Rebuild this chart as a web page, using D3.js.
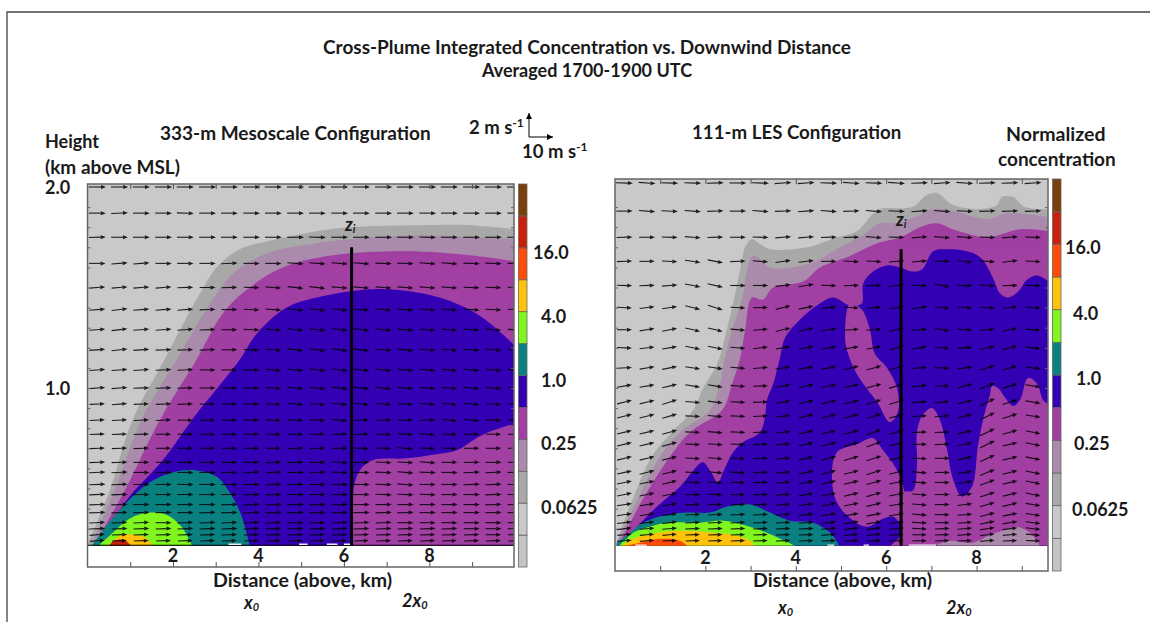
<!DOCTYPE html>
<html>
<head>
<meta charset="utf-8">
<script src="https://cdn.jsdelivr.net/npm/d3@7"></script>
<style>
  body { margin: 0; background: #fff; }
  svg { display: block; }
  text { font-family: Lato, "Open Sans", sans-serif; font-weight: 700; fill: #1a1a1a; }
</style>
</head>
<body>
<svg width="1150" height="622"></svg>
<script>
// contour tops, [km, km above MSL]
var mesoGray = [[0,.22],[.52,.49],[1.05,.84],[1.80,1.14],[2.55,1.44],[3.02,1.60],[3.56,1.69],[4.43,1.74],[5.36,1.78],[6.14,1.80],[7.78,1.81],[8.95,1.81],[10,1.79]];
var mesoLilac = [[.09,.22],[.63,.49],[1.26,.84],[2.08,1.14],[2.93,1.44],[3.40,1.57],[4.19,1.67],[5.36,1.72],[6.14,1.74],[7.78,1.76],[8.95,1.75],[10,1.74]];
var mesoPurple = [[.16,.22],[.87,.49],[1.69,.84],[2.55,1.14],[3.16,1.37],[3.79,1.50],[4.57,1.60],[5.74,1.66],[7.47,1.68],[8.95,1.66],[10,1.63]];
var mesoBlue = [[.28,.22],[.91,.44],[1.76,.64],[2.44,.84],[3.56,1.14],[3.96,1.27],[4.66,1.40],[5.36,1.45],[6.53,1.49],[7.14,1.49],[8.24,1.45],[9.18,1.36],[10,1.21]];
var mesoLowPurple = [[6.21,.22],[6.22,.49],[6.37,.59],[6.67,.64],[7.47,.65],[8.17,.67],[8.64,.69],[9.18,.76],[9.65,.80],[10,.81],[10,.22]];
var mesoTeal = [[.12,.22],[.35,.29],[.91,.43],[1.45,.53],[1.99,.58],[2.55,.59],[3.02,.56],[3.33,.48],[3.61,.36],[3.79,.22]];
var mesoLime = [[.28,.22],[.59,.28],[.98,.35],[1.45,.38],[1.85,.37],[2.20,.31],[2.44,.22]];
var mesoYellow = [[.52,.22],[.80,.27],[1.05,.27],[1.33,.26],[1.52,.22]];
var mesoRed = [[.52,.22],[.62,.24],[.85,.245],[1.0,.22]];

var lesGray = [[0,.21],[.11,.28],[.38,.44],[.82,.66],[1.26,.78],[1.73,.89],[1.95,1.00],[2.26,1.12],[2.43,1.25],[2.61,1.42],[2.77,1.59],[2.88,1.70],[3.03,1.74],[3.25,1.71],[3.43,1.69],[4.25,1.70],[4.91,1.75],[5.35,1.78],[5.64,1.85],[5.86,1.89],[6.57,1.90],[6.90,1.96],[7.12,1.97],[7.48,1.91],[8.08,1.89],[8.45,1.91],[8.56,1.95],[8.81,1.95],[9.07,1.90],[9.6,1.89]];
var lesLilac = [[.02,.21],[.15,.28],[.49,.44],[1.0,.66],[1.44,.78],[2.10,.89],[2.32,1.02],[2.43,1.15],[2.59,1.29],[2.81,1.44],[2.92,1.59],[3.05,1.66],[3.16,1.65],[3.43,1.60],[4.31,1.62],[4.98,1.70],[5.42,1.75],[5.86,1.82],[6.19,1.82],[6.75,1.86],[7.04,1.89],[7.48,1.88],[8.23,1.84],[8.67,1.87],[9.6,1.85]];
var lesPurple = [[.04,.21],[.22,.28],[.60,.44],[1.22,.66],[1.66,.78],[2.37,.89],[2.59,1.02],[2.77,1.15],[2.88,1.29],[3.03,1.45],[3.27,1.44],[3.50,1.50],[4.16,1.53],[4.54,1.60],[5.13,1.65],[5.80,1.72],[6.31,1.75],[6.75,1.80],[7.12,1.82],[7.48,1.79],[8.23,1.75],[8.96,1.79],[9.6,1.78]];
var lesBlue = [[.07,.21],[.49,.31],[.93,.41],[1.44,.51],[1.81,.61],[1.95,.63],[2.10,.59],[2.28,.53],[2.39,.58],[2.61,.68],[2.83,.73],[3.21,.78],[3.32,.86],[3.36,.94],[3.50,1.02],[3.65,1.15],[3.76,1.25],[4.09,1.34],[4.47,1.41],[4.82,1.45],[5.20,1.41],[5.46,1.42],[5.49,1.52],[5.71,1.58],[6.02,1.61],[6.31,1.60],[6.57,1.58],[6.79,1.59],[7.04,1.68],[7.35,1.69],[7.79,1.68],[8.08,1.65],[8.36,1.55],[8.52,1.47],[8.69,1.45],[8.92,1.48],[9.12,1.54],[9.34,1.56],[9.6,1.53]];
var lesLobe = [[5.20,1.42],[5.46,1.39],[5.64,1.29],[5.75,1.17],[6.02,1.10],[6.24,1.00],[6.26,.88],[6.08,.83],[5.80,.93],[5.35,1.07],[5.13,1.19],[5.09,1.27]];
var lesIsland = [[5.71,.75],[5.93,.69],[6.19,.61],[6.37,.52],[6.37,.32],[6.15,.36],[5.93,.35],[5.58,.31],[5.27,.34],[4.91,.43],[4.80,.56],[4.91,.68],[5.35,.72]];
var lesFoot = [[6.1,.21],[6.3,.26],[6.37,.29],[6.37,.21]];
var lesLowPurple = [[6.33,.21],[6.37,.48],[6.59,.49],[6.68,.61],[6.68,.78],[6.79,.86],[7.01,.90],[7.19,.84],[7.35,.69],[7.46,.56],[7.68,.46],[7.90,.51],[8.03,.71],[8.14,.84],[8.30,.97],[8.34,1.01],[8.47,1.00],[8.67,.94],[8.81,.91],[8.96,.94],[9.14,1.05],[9.34,1.02],[9.47,.94],[9.6,.91],[9.6,.21]];
var lesLowLilac = [[7.12,.22],[7.41,.24],[7.92,.23],[8.30,.27],[8.58,.29],[8.89,.31],[9.18,.28],[9.34,.24],[9.40,.21]];
var lesTeal = [[.04,.23],[.33,.28],[.62,.33],[1.15,.37],[1.66,.38],[2.10,.38],[2.48,.41],[2.99,.42],[3.43,.38],[3.87,.34],[4.38,.33],[4.76,.28],[4.98,.21]];
var lesLime = [[.07,.21],[.40,.28],[.62,.30],[1.15,.33],[1.88,.33],[2.39,.34],[2.83,.32],[3.36,.28],[4.03,.21]];
var lesYellow = [[.11,.21],[.40,.25],[.93,.28],[1.50,.29],[2.17,.28],[2.61,.27],[2.99,.24],[3.10,.21]];
var lesOrange = [[.15,.21],[.55,.23],[1.0,.25],[1.44,.24],[1.62,.21]];

// colour bar: edges in normalized concentration, colours bottom to top
var barEdges = [1/64,1/32,1/16,1/8,1/4,1/2,1,2,4,8,16,32,64];
var barColors = ["#c4c4c4","#c9c9c9","#a9a9a9","#ab8bab","#a23fa2","#3300b4","#0a8080","#80f51e","#ffc20a","#ff4a0a","#c8200a","#7a3f0a"];
var barTicks = [16,4,1,0.25,0.0625];
var barTickLabels = ["16.0","4.0","1.0","0.25","0.0625"];

// wind vectors
var mesoCols = [.23,.75,1.26,1.78,2.29,2.81,3.32,3.84,4.35,4.87,5.38,5.90,6.41,6.93,7.44,7.96,8.47,8.99,9.50,10.02];
var mesoRows = [2.00,1.87,1.75,1.62,1.50,1.39,1.29,1.19,1.09,1.00,.92,.84,.77,.70,.63,.58,.52,.47,.42,.38,.33,.30,.27,.24];
var mesoU = [7.2,7,7,6.8,6.6,6.6,6.6,6.6,6.6,6.6,6.4,6.4,6.4,6.4,6.6,6.8,6.8,6.8,6.8,6.8,6.6,6.6,6.4,6.2];
var mesoV = [
[0,0,0,0,0,0,0,0,0,0,0,0,0,0,0,0,0,0,0,0],
[0,.05,0,0,-.05,0,0,0,0,0,0,0,0,0,0,0,0,0,0,0],
[.05,0,0,0,0,0,0,0,0,0,-.05,0,0,0,0,-.05,0,0,0,0],
[0,.1,.1,0,0,0,.05,0,0,-.1,-.1,-.1,-.1,-.05,-.05,-.1,-.1,-.05,-.05,0],
[.1,.1,.1,.1,.05,0,.05,-.05,-.1,-.15,-.15,-.1,-.1,-.1,-.1,-.1,-.1,-.05,-.05,-.05],
[.1,.15,.1,.1,.1,.05,0,-.05,-.1,-.15,-.15,-.15,-.1,-.1,-.1,-.1,-.1,-.1,-.05,-.05],
[.1,.15,.1,.1,.1,.05,0,-.05,-.1,-.15,-.15,-.15,-.15,-.1,-.1,-.1,-.1,-.1,-.1,-.05],
[.1,.15,.1,.05,.05,.05,0,-.05,-.1,-.15,-.15,-.15,-.15,-.1,-.15,-.1,-.1,-.1,-.1,-.05],
[.1,.1,.1,.05,.05,0,0,-.05,-.1,-.1,-.15,-.15,-.15,-.1,-.1,-.1,-.1,-.1,-.1,-.05],
[.1,.1,.05,.05,.05,0,0,-.05,-.1,-.1,-.1,-.15,-.15,-.15,-.1,-.1,-.1,-.1,-.1,-.05],
[.05,.1,.05,.05,.05,0,0,0,-.05,-.1,-.1,-.1,-.1,-.1,-.1,-.1,-.1,-.1,-.05,-.05],
[.05,.05,.05,.05,0,0,0,0,-.05,-.05,-.05,-.1,.05,.05,.05,.05,-.1,-.1,-.05,-.05],
[.05,.05,.05,0,0,0,0,0,-.05,0,.05,.05,.05,0,-.1,-.1,-.05,0,0,0],
[.05,.05,.05,0,0,0,0,0,0,.05,.05,0,-.05,-.05,-.1,-.05,-.05,0,0,0],
[.05,.05,0,0,0,0,0,0,.05,.05,0,-.05,0,-.05,-.05,-.1,0,0,0,0],
[.05,.05,0,0,0,0,0,.05,.05,0,.05,-.05,0,-.05,-.1,-.05,0,.05,.05,0],
[.05,.05,0,0,0,0,0,0,.05,.05,0,0,0,-.05,-.1,0,0,.05,.05,0],
[.05,.05,0,0,0,0,0,.05,.05,0,0,0,0,-.05,-.05,-.05,0,0,.05,0],
[.05,.05,0,0,0,0,.05,.05,.05,0,0,0,0,0,0,0,0,0,.05,0],
[.05,.05,0,0,0,.05,.05,.05,.05,0,0,0,0,.05,.05,0,0,0,0,0],
[.05,.05,.05,0,.05,.05,.05,.05,.05,0,0,.05,.05,.05,0,0,0,0,0,0],
[.05,.05,.05,.05,.05,.05,.05,.05,.05,.05,.05,.05,.05,.05,.05,.05,.05,0,0,0],
[.1,.05,.05,.05,.05,.05,.05,.05,.05,.05,.05,.05,.05,.05,.05,.05,.05,.05,0,0],
[.1,.05,.05,.05,.05,.05,.05,.05,.05,.05,.05,.05,.05,.05,.05,.05,.05,.05,.05,.05]
];

var lesCols = [.21,.71,1.21,1.72,2.22,2.72,3.22,3.72,4.23,4.73,5.23,5.73,6.23,6.74,7.24,7.74,8.24,8.74,9.25];
var lesRows = [2.02,1.88,1.75,1.63,1.51,1.40,1.29,1.20,1.10,1.01,.93,.86,.78,.72,.65,.58,.53,.47,.42,.37,.33,.30,.27,.24];
var lesU = [7,6.8,6.6,6.4,6.4,6.2,6.2,6.2,6.2,6.2,6.2,6.2,6.2,6.2,6.2,6.2,6.2,6.2,6.2,6.2,6.2,6.2,6,6];
var lesV = [
[-.05,-.1,-.05,-.05,.05,0,-.05,.1,.1,-.05,-.1,-.05,-.1,.05,.1,-.1,.05,.05,.1],
[0,-.1,-.05,-.1,.05,0,-.1,.05,.1,-.1,.05,-.1,-.05,.1,-.1,-.05,.05,.05,.05],
[.05,0,-.05,-.1,.05,0,-.05,.1,.1,.05,.05,-.1,-.05,.1,-.1,-.1,-.05,.1,-.05],
[.05,0,-.05,-.2,-.25,.05,-.1,.2,.15,0,-.05,-.05,.1,.1,0,-.15,-.1,.15,-.05],
[-.05,.05,.1,-.25,-.3,0,0,.15,.2,-.05,.05,.05,.2,-.05,-.2,-.05,-.1,.05,-.05],
[-.05,.15,.2,-.3,-.4,-.05,0,.3,.25,.1,-.05,.1,.2,.2,-.1,-.1,-.05,.15,-.1],
[0,.2,.25,-.3,-.3,-.1,.1,.3,.3,.2,.1,.1,.3,.1,-.2,-.05,.1,.3,-.1],
[-.05,.15,.2,-.25,-.25,-.1,.15,.2,.25,.2,.2,.25,.4,.2,-.1,.1,.25,.35,-.15],
[.05,.2,.25,-.2,-.2,-.1,.1,.2,.2,.25,.3,.35,.35,.1,-.05,.2,.4,.35,-.15],
[.2,.2,.3,-.2,-.2,-.1,.05,.2,.25,.25,.3,.35,.4,.15,.05,.35,.5,.4,-.2],
[.3,.3,.4,-.1,-.15,-.05,.05,.2,.25,.3,.3,.4,.4,.1,.1,.3,.6,.4,-.2],
[.3,.3,.35,-.05,-.1,-.05,.05,.15,.3,.3,.35,.4,.35,.05,.1,.3,.6,.4,-.2],
[.3,.3,.35,-.05,-.1,-.05,.05,.1,.3,.3,.35,.45,.35,.05,.05,.3,.6,.35,-.25],
[.3,.3,.35,-.05,-.1,-.05,.05,.1,.25,.3,.35,.45,.3,0,.05,.25,.6,.3,-.25],
[.3,.3,.3,-.05,-.1,-.05,.05,.1,.25,.3,.35,.4,.3,-.05,0,.25,.55,.3,-.25],
[.25,.3,.3,-.05,-.1,-.05,.05,.1,.25,.3,.3,.4,.3,-.1,0,.2,.5,.3,-.25],
[.25,.25,.3,-.05,-.05,0,.05,.1,.2,.3,.3,.35,.25,-.1,0,.2,.45,.3,-.25],
[.25,.25,.25,0,-.05,0,.05,.1,.2,.25,.3,.35,.25,-.1,0,.15,.4,.3,-.25],
[.2,.2,.2,.05,0,.05,.05,.1,.15,.25,.25,.3,.2,-.1,0,.15,.35,.3,-.2],
[.2,.2,.15,.05,.05,.05,.05,.1,.15,.2,.25,.25,.2,-.1,0,.1,.3,.25,-.2],
[.15,.15,.15,.05,.05,.05,.05,.05,.1,.15,.2,.2,.15,-.05,0,.1,.25,.2,-.15],
[.15,.1,.1,.05,.05,.05,.05,.05,.05,.1,.15,.15,.1,-.05,.05,.1,.2,.15,-.15],
[.1,.1,.1,.05,.05,.05,.05,.05,.05,.1,.1,.1,.1,0,.05,.1,.15,.1,-.1],
[.1,.1,.05,.05,.05,.05,.05,.05,.05,.05,.05,.05,.05,0,.05,.05,.1,.05,-.05]
];

var mesoZi = {x: 6.18, top: 1.70};
var lesZi = {x: 6.33, top: 1.69};
var mesoDashes = [[3.3,3.6],[4.95,5.15],[5.6,5.85],[6.0,6.15]];
var lesDashes = [[.45,.7],[4.7,4.85],[5.5,5.62],[6.5,7.1]];
var xTickValues = [1,2,3,4,5,6,7,8,9];
var xLabelValues = [2,4,6,8];
var surface = 0.22;

var svg = d3.select("svg");

// figure border
svg.append("path").attr("d", "M7,622V12H1150").attr("fill", "none").attr("stroke", "#444").attr("stroke-width", 1.3);

var y = d3.scaleLinear().domain([0, 2]).range([589, 187]);
var uLen = d3.scaleLinear().domain([0, 10]).range([0, 24]);
var vLen = d3.scaleLinear().domain([0, 2]).range([0, 24]);

function label(str, x, yy, size, opts) {
    opts = opts || {};
    var t = svg.append("text")
        .attr("x", x).attr("y", yy)
        .attr("dominant-baseline", "central")
        .attr("font-size", size)
        .attr("text-anchor", opts.anchor || "start")
        .attr("font-style", opts.italic ? "italic" : null)
        .text(str);
    if (opts.after) {
        opts.after.forEach(function(a) {
            t.append("tspan")
                .attr("dy", a.dy)
                .attr("font-size", a.size)
                .text(a.text);
        });
    }
    return t;
}

function drawPanel(p) {
    var x = d3.scaleLinear().domain([0, p.xMax]).range([p.left, p.right]);
    var clipId = "clip" + p.name;
    svg.append("clipPath").attr("id", clipId).append("rect")
        .attr("x", p.left).attr("y", p.top)
        .attr("width", p.right - p.left).attr("height", y(surface) - p.top + 1);

    svg.append("rect").attr("x", p.left).attr("y", p.top)
        .attr("width", p.right - p.left).attr("height", y(surface) - p.top)
        .attr("fill", barColors[1]);

    var g = svg.append("g").attr("clip-path", "url(#" + clipId + ")");

    var area = d3.area()
        .x(function(d) { return x(d[0]); })
        .y1(function(d) { return y(d[1]); })
        .y0(y(surface) + 2)
        .curve(d3.curveCatmullRom.alpha(0.5));
    var closed = d3.line()
        .x(function(d) { return x(d[0]); })
        .y(function(d) { return y(d[1]); })
        .curve(d3.curveCatmullRomClosed.alpha(0.5));

    p.bands.forEach(function(b) {
        g.append("path").attr("d", area(b.pts)).attr("fill", b.color);
    });
    p.patches.forEach(function(b) {
        g.append("path").attr("d", closed(b.pts)).attr("fill", b.color);
    });

    // surface line and the pale gaps in it
    g.append("line").attr("x1", p.left).attr("x2", p.right)
        .attr("y1", y(surface) + p.surfaceShift).attr("y2", y(surface) + p.surfaceShift)
        .attr("stroke", "#000").attr("stroke-width", 2);
    p.dashes.forEach(function(d) {
        g.append("line").attr("x1", x(d[0])).attr("x2", x(d[1]))
            .attr("y1", y(surface) + p.surfaceShift - 1.5).attr("y2", y(surface) + p.surfaceShift - 1.5)
            .attr("stroke", "#eee").attr("stroke-width", 1.5);
    });

    // wind vectors
    var vec = g.append("g").attr("opacity", 0.85);
    p.rows.forEach(function(h, r) {
        p.cols.forEach(function(c, k) {
            var dx = uLen(p.u[r]) / 2, dy = vLen(p.v[r][k]) / 2;
            var cx = x(c), cy = y(h);
            var len = Math.sqrt(dx * dx + dy * dy) || 1;
            var ax = dx / len, ay = dy / len;
            var tipX = cx + dx, tipY = cy - dy;
            var baseX = tipX - ax * 5, baseY = tipY + ay * 5;
            vec.append("line").attr("x1", cx - dx).attr("y1", cy + dy)
                .attr("x2", baseX).attr("y2", baseY)
                .attr("stroke", "#000").attr("stroke-width", 1.1);
            vec.append("path")
                .attr("d", "M" + tipX + "," + tipY +
                    "L" + (baseX - ay * 2) + "," + (baseY - ax * 2) +
                    "L" + (baseX + ay * 2) + "," + (baseY + ax * 2) + "Z")
                .attr("fill", "#000");
        });
    });

    // z_i line
    svg.append("line").attr("x1", x(p.zi.x)).attr("x2", x(p.zi.x))
        .attr("y1", y(p.zi.top)).attr("y2", y(surface) + 1)
        .attr("stroke", "#000").attr("stroke-width", 3);

    // frame with inward ticks
    svg.append("rect").attr("x", p.left).attr("y", p.top)
        .attr("width", p.right - p.left).attr("height", p.bottom - p.top)
        .attr("fill", "none").attr("stroke", "#666").attr("stroke-width", 1.5);

    var yTicks = d3.range(3, 20).map(function(d) { return d / 10; });
    [[d3.axisRight, p.left], [d3.axisLeft, p.right]].forEach(function(a) {
        var ax = svg.append("g").attr("transform", "translate(" + a[1] + ",0)")
            .call(a[0](y).tickValues(yTicks).tickSize(3).tickFormat(""));
        ax.select(".domain").remove();
        ax.selectAll("line").attr("stroke", "#666");
    });
    var topAxis = svg.append("g").attr("transform", "translate(0," + p.top + ")")
        .call(d3.axisBottom(x).tickValues(xTickValues).tickSize(5).tickFormat(""));
    topAxis.select(".domain").remove();
    topAxis.selectAll("line").attr("stroke", "#555");
    var botAxis = svg.append("g").attr("transform", "translate(0," + p.bottom + ")")
        .call(d3.axisTop(x).tickValues(xTickValues).tickSize(5).tickFormat(""));
    botAxis.select(".domain").remove();
    botAxis.selectAll("line").attr("stroke", "#555");

    xLabelValues.forEach(function(v) {
        label(String(v), x(v), p.xLabelY, 18, {anchor: "middle"});
    });

    // colour bar
    var bar = d3.scaleLog().base(2).domain([barEdges[0], barEdges[12]]).range([p.bottom, p.top]);
    barColors.forEach(function(c, i) {
        svg.append("rect").attr("x", p.barX).attr("width", 8.5)
            .attr("y", bar(barEdges[i + 1])).attr("height", bar(barEdges[i]) - bar(barEdges[i + 1]))
            .attr("fill", c).attr("stroke", "#666").attr("stroke-width", 0.8);
    });
    barTicks.forEach(function(v, i) {
        label(barTickLabels[i], p.barLabelX[i], bar(v) + p.barLabelDy, 18);
    });
}

drawPanel({
    name: "meso", left: 87.5, right: 514, top: 184, bottom: 567, xMax: 9.98, surfaceShift: 1,
    bands: [
        {pts: mesoGray, color: barColors[2]},
        {pts: mesoLilac, color: barColors[3]},
        {pts: mesoPurple, color: barColors[4]},
        {pts: mesoBlue, color: barColors[5]},
        {pts: mesoLowPurple, color: barColors[4]},
        {pts: mesoTeal, color: barColors[6]},
        {pts: mesoLime, color: barColors[7]},
        {pts: mesoYellow, color: barColors[8]},
        {pts: mesoRed, color: barColors[10]}
    ],
    patches: [], dashes: mesoDashes, zi: mesoZi,
    cols: mesoCols, rows: mesoRows, u: mesoU, v: mesoV,
    xLabelY: 555, barX: 518.5, barLabelX: [533, 541, 541, 541, 541], barLabelDy: 4
});
drawPanel({
    name: "les", left: 615, right: 1048, top: 179, bottom: 571, xMax: 9.58, surfaceShift: 2,
    bands: [
        {pts: lesGray, color: barColors[2]},
        {pts: lesLilac, color: barColors[3]},
        {pts: lesPurple, color: barColors[4]},
        {pts: lesBlue, color: barColors[5]},
        {pts: lesLowPurple, color: barColors[4]},
        {pts: lesLowLilac, color: barColors[3]},
        {pts: lesTeal, color: barColors[6]},
        {pts: lesLime, color: barColors[7]},
        {pts: lesYellow, color: barColors[8]},
        {pts: lesOrange, color: barColors[9]}
    ],
    patches: [
        {pts: lesLobe, color: barColors[4]},
        {pts: lesIsland, color: barColors[4]},
        {pts: lesFoot, color: barColors[4]}
    ],
    dashes: lesDashes, zi: lesZi,
    cols: lesCols, rows: lesRows, u: lesU, v: lesV,
    xLabelY: 557, barX: 1052.5, barLabelX: [1065, 1073, 1076, 1074, 1072], barLabelDy: 3
});

// titles
label("Cross-Plume Integrated Concentration vs. Downwind Distance", 587, 46, 19, {anchor: "middle"});
label("Averaged 1700-1900 UTC", 587, 70, 18, {anchor: "middle"});
label("333-m Mesoscale Configuration", 160, 132, 19);
label("111-m LES Configuration", 692, 132, 18.7);
label("Height", 45, 141, 18);
label("(km above MSL)", 45, 166, 19);
label("2.0", 45, y(2), 18);
label("1.0", 45, y(1), 18);
label("Normalized", 1006, 133, 19.5);
label("concentration", 998, 158, 19);
label("Distance (above, km)", 213, 579, 19.5);
label("Distance (above, km)", 753, 579, 19.5);

// subscripted marks
function sub(prefix, subText, x, yy) {
    label(prefix, x, yy, 18, {italic: true, after: [{text: subText, dy: 4, size: 11}]});
}
sub("x", "0", 244, 602);
sub("2x", "0", 402, 600);
sub("x", "0", 778, 607);
sub("2x", "0", 946, 607);
sub("z", "i", 345, 224);
sub("z", "i", 896, 219);

// vector key
var keyX = 529, keyY = 137;
label("2 m s", 469, 127, 18.5, {after: [{text: "-1", dy: -5, size: 12}]});
label("10 m s", 522, 151, 18.5, {after: [{text: "-1", dy: -5, size: 12}]});
[[keyX + uLen(10), keyY], [keyX, keyY - vLen(2)]].forEach(function(tip) {
    svg.append("line").attr("x1", keyX).attr("y1", keyY).attr("x2", tip[0]).attr("y2", tip[1])
        .attr("stroke", "#000").attr("stroke-width", 1);
});
svg.append("path").attr("d", d3.line()([[keyX + uLen(10), keyY], [keyX + uLen(10) - 6, keyY - 3], [keyX + uLen(10) - 6, keyY + 3]])).attr("fill", "#000");
svg.append("path").attr("d", d3.line()([[keyX, keyY - vLen(2)], [keyX - 3, keyY - vLen(2) + 6], [keyX + 3, keyY - vLen(2) + 6]])).attr("fill", "#000");
</script>
</body>
</html>
